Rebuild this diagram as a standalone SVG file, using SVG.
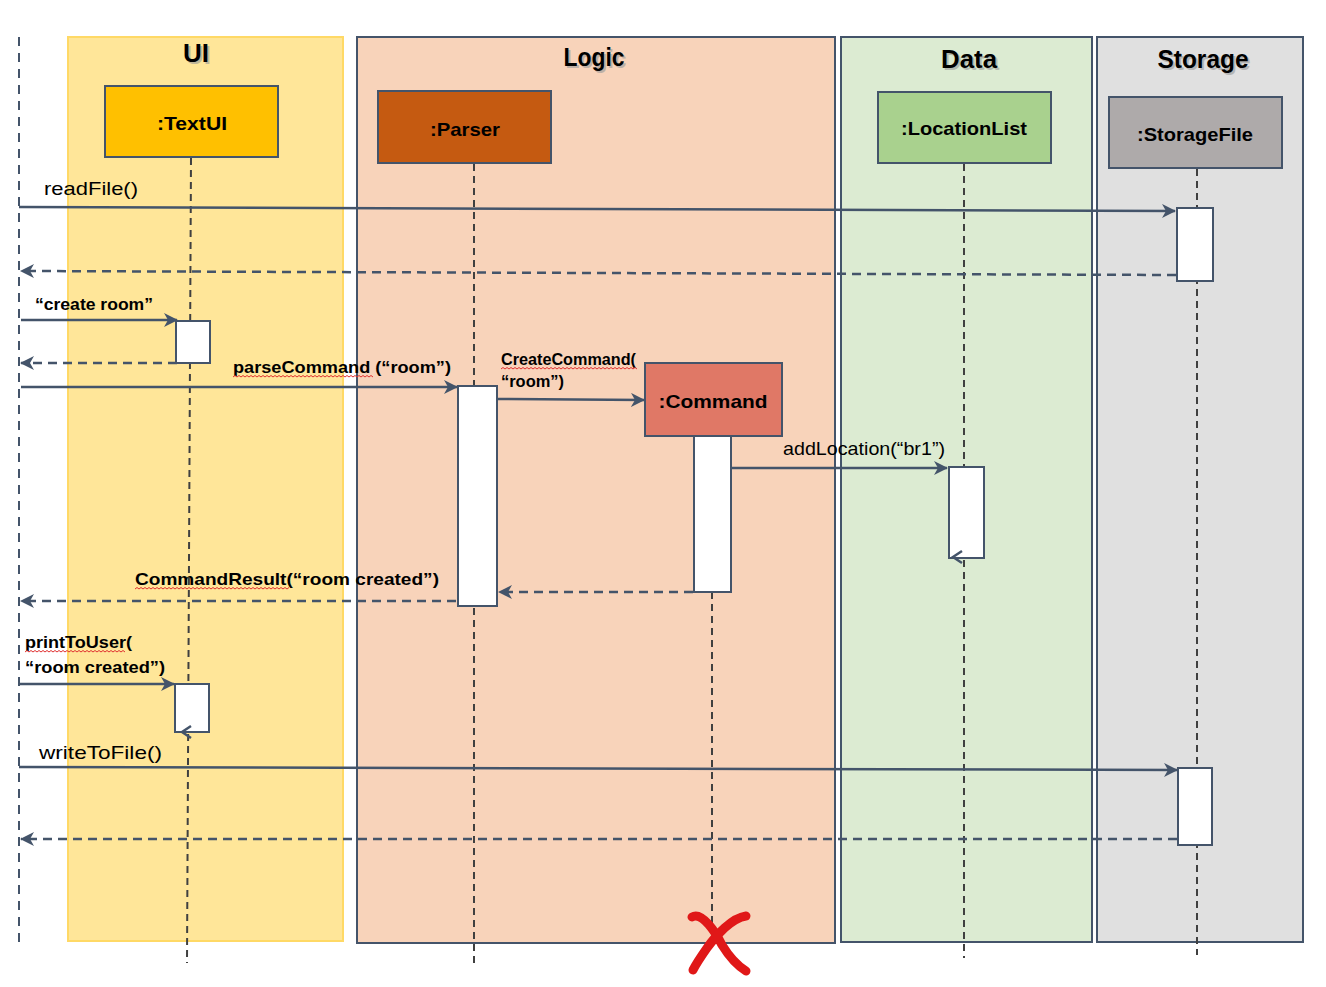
<svg xmlns="http://www.w3.org/2000/svg" width="1326" height="987" viewBox="0 0 1326 987">
<style>
  .panel{stroke:#44546A;stroke-width:2}
  .title{font-family:"Liberation Sans",Arial,sans-serif;font-weight:bold;font-size:25px;fill:#000;text-anchor:middle}
  .tshadow{font-family:"Liberation Sans",Arial,sans-serif;font-weight:bold;font-size:25px;fill:#999;opacity:0.6;text-anchor:middle}
  .obj{stroke:#44546A;stroke-width:2}
  .objtxt{font-family:"Liberation Sans",Arial,sans-serif;font-weight:bold;font-size:19px;fill:#000;text-anchor:middle}
  .life{stroke:#404040;stroke-width:2;stroke-dasharray:7,5;fill:none}
  .act{fill:#fff;stroke:#44546A;stroke-width:2}
  .msg{stroke:#44546A;stroke-width:2.5;fill:none;marker-end:url(#arr)}
  .ret{stroke:#44546A;stroke-width:2.5;fill:none;stroke-dasharray:9,6;marker-end:url(#arr)}
  .lbl{font-family:"Liberation Sans",Arial,sans-serif;font-size:19px;fill:#000}
  .blbl{font-family:"Liberation Sans",Arial,sans-serif;font-weight:bold;font-size:17px;fill:#000}
  .sq{stroke:#E03030;stroke-width:1;fill:none}
</style>
<defs>
  <marker id="arr" viewBox="0 0 14 14" refX="13" refY="7" markerWidth="14" markerHeight="14" markerUnits="userSpaceOnUse" orient="auto">
    <path d="M0,0 L14,7 L0,14 L4,7 z" fill="#44546A"/>
  </marker>
</defs>
<rect width="1326" height="987" fill="#fff"/>

<g id="panels">
  <rect x="68" y="37" width="275" height="904" fill="#FFE699" stroke="#FFD966" stroke-width="2"/>
  <rect class="panel" x="357" y="37" width="478" height="906" fill="#F8D3BA"/>
  <rect class="panel" x="841" y="37" width="251" height="905" fill="#DCEBD2"/>
  <rect class="panel" x="1097" y="37" width="206" height="905" fill="#E0E0E0"/>
  <text class="tshadow" x="198" y="64" textLength="26" lengthAdjust="spacingAndGlyphs">UI</text>
  <text class="title" x="196" y="62" textLength="26" lengthAdjust="spacingAndGlyphs">UI</text>
  <text class="tshadow" x="596" y="68" textLength="61" lengthAdjust="spacingAndGlyphs">Logic</text>
  <text class="title" x="594" y="66" textLength="61" lengthAdjust="spacingAndGlyphs">Logic</text>
  <text class="tshadow" x="971" y="70" textLength="56" lengthAdjust="spacingAndGlyphs">Data</text>
  <text class="title" x="969" y="68" textLength="56" lengthAdjust="spacingAndGlyphs">Data</text>
  <text class="tshadow" x="1205" y="70" textLength="91" lengthAdjust="spacingAndGlyphs">Storage</text>
  <text class="title" x="1203" y="68" textLength="91" lengthAdjust="spacingAndGlyphs">Storage</text>
</g>

<g id="lifelines">
  <line x1="19" y1="37" x2="19" y2="947" stroke="#44546A" stroke-width="2" stroke-dasharray="9,7"/>
  <line class="life" x1="191" y1="158" x2="187" y2="963"/>
  <line class="life" x1="474" y1="164" x2="474" y2="963"/>
  <line class="life" x1="964" y1="164" x2="964" y2="958"/>
  <line class="life" x1="1197" y1="169" x2="1197" y2="955"/>
  <line class="life" x1="712" y1="592" x2="712" y2="935"/>
</g>

<g id="TextUI">
  <rect class="obj" x="105" y="86" width="173" height="71" fill="#FFC000"/>
  <text class="objtxt" x="192" y="130" textLength="70" lengthAdjust="spacingAndGlyphs">:TextUI</text>
</g>
<g id="Parser">
  <rect class="obj" x="378" y="91" width="173" height="72" fill="#C55A11"/>
  <text class="objtxt" x="465" y="136" textLength="70" lengthAdjust="spacingAndGlyphs">:Parser</text>
</g>
<g id="LocationList">
  <rect class="obj" x="878" y="92" width="173" height="71" fill="#A9D18E"/>
  <text class="objtxt" x="964" y="135" textLength="126" lengthAdjust="spacingAndGlyphs">:LocationList</text>
</g>
<g id="StorageFile">
  <rect class="obj" x="1109" y="97" width="173" height="71" fill="#AEAAAA"/>
  <text class="objtxt" x="1195" y="141" textLength="116" lengthAdjust="spacingAndGlyphs">:StorageFile</text>
</g>
<g id="Command">
  <rect class="obj" x="645" y="363" width="137" height="73" fill="#E07866"/>
  <text class="objtxt" x="713" y="408" font-size="20" textLength="109" lengthAdjust="spacingAndGlyphs">:Command</text>
</g>

<g id="activations">
  <rect class="act" x="1177" y="208" width="36" height="73"/>
  <rect class="act" x="176" y="321" width="34" height="42"/>
  <rect class="act" x="458" y="386" width="39" height="220"/>
  <rect class="act" x="694" y="436" width="37" height="156"/>
  <rect class="act" x="949" y="467" width="35" height="91"/>
  <rect class="act" x="175" y="684" width="34" height="48"/>
  <rect class="act" x="1178" y="768" width="34" height="77"/>
</g>

<g id="connectors">
  <path class="msg" d="M19,207 L1175,211"/>
  <path class="ret" d="M1176,275 L21,271"/>
  <path class="msg" d="M21,320 L177,320"/>
  <path class="ret" d="M177,363 L21,363"/>
  <path class="msg" d="M21,387 L457,387"/>
  <path class="msg" d="M497,399 L644,400"/>
  <path class="msg" d="M731,468 L947,468"/>
  <path d="M962,551 L953,557 L962,563" stroke="#44546A" stroke-width="2.5" fill="none"/>
  <path class="ret" d="M693,592 L499,592"/>
  <path class="ret" d="M456,601 L21,601"/>
  <path class="msg" d="M19,684 L174,684"/>
  <path d="M191,726 L182,732 L191,738" stroke="#44546A" stroke-width="2.5" fill="none"/>
  <path class="msg" d="M19,767 L1177,770"/>
  <path class="ret" d="M1177,839 L21,839"/>
</g>

<g id="labels">
  <text class="lbl" x="44" y="195" textLength="94" lengthAdjust="spacingAndGlyphs">readFile()</text>
  <text class="blbl" x="35" y="310" font-size="16" textLength="118" lengthAdjust="spacingAndGlyphs">“create room”</text>
  <text class="blbl" x="233" y="373" textLength="218" lengthAdjust="spacingAndGlyphs">parseCommand (“room”)</text>
  <text class="blbl" x="501" y="365" font-size="15" textLength="135" lengthAdjust="spacingAndGlyphs">CreateCommand(</text>
  <text class="blbl" x="501" y="387" font-size="15" textLength="63" lengthAdjust="spacingAndGlyphs">“room”)</text>
  <text class="lbl" x="783" y="455" font-size="18" textLength="162" lengthAdjust="spacingAndGlyphs">addLocation(“br1”)</text>
  <text class="blbl" x="135" y="585" font-size="18" textLength="304" lengthAdjust="spacingAndGlyphs">CommandResult(“room created”)</text>
  <text class="blbl" x="25" y="648" textLength="107" lengthAdjust="spacingAndGlyphs">printToUser(</text>
  <text class="blbl" x="25" y="673" textLength="140" lengthAdjust="spacingAndGlyphs">“room created”)</text>
  <text class="lbl" x="39" y="759" font-size="20" textLength="123" lengthAdjust="spacingAndGlyphs">writeToFile()</text>
  <path class="sq" d="M233,377 l2,-1.5 l2,1.5 l2,-1.5 l2,1.5 l2,-1.5 l2,1.5 l2,-1.5 l2,1.5 l2,-1.5 l2,1.5 l2,-1.5 l2,1.5 l2,-1.5 l2,1.5 l2,-1.5 l2,1.5 l2,-1.5 l2,1.5 l2,-1.5 l2,1.5 l2,-1.5 l2,1.5 l2,-1.5 l2,1.5 l2,-1.5 l2,1.5 l2,-1.5 l2,1.5 l2,-1.5 l2,1.5 l2,-1.5 l2,1.5 l2,-1.5 l2,1.5 l2,-1.5 l2,1.5 l2,-1.5 l2,1.5 l2,-1.5 l2,1.5 l2,-1.5 l2,1.5 l2,-1.5 l2,1.5 l2,-1.5 l2,1.5 l2,-1.5 l2,1.5 l2,-1.5 l2,1.5 l2,-1.5 l2,1.5 l2,-1.5 l2,1.5 l2,-1.5 l2,1.5 l2,-1.5 l2,1.5 l2,-1.5 l2,1.5 l2,-1.5 l2,1.5 l2,-1.5 l2,1.5 l2,-1.5 l2,1.5 l2,-1.5 l2,1.5 l2,-1.5 l2,1.5"/>
  <path class="sq" d="M501,369 l2,-1.5 l2,1.5 l2,-1.5 l2,1.5 l2,-1.5 l2,1.5 l2,-1.5 l2,1.5 l2,-1.5 l2,1.5 l2,-1.5 l2,1.5 l2,-1.5 l2,1.5 l2,-1.5 l2,1.5 l2,-1.5 l2,1.5 l2,-1.5 l2,1.5 l2,-1.5 l2,1.5 l2,-1.5 l2,1.5 l2,-1.5 l2,1.5 l2,-1.5 l2,1.5 l2,-1.5 l2,1.5 l2,-1.5 l2,1.5 l2,-1.5 l2,1.5 l2,-1.5 l2,1.5 l2,-1.5 l2,1.5 l2,-1.5 l2,1.5 l2,-1.5 l2,1.5 l2,-1.5 l2,1.5 l2,-1.5 l2,1.5 l2,-1.5 l2,1.5 l2,-1.5 l2,1.5 l2,-1.5 l2,1.5 l2,-1.5 l2,1.5 l2,-1.5 l2,1.5 l2,-1.5 l2,1.5 l2,-1.5 l2,1.5 l2,-1.5 l2,1.5 l2,-1.5 l2,1.5 l2,-1.5 l2,1.5 l2,-1.5 l2,1.5"/>
  <path class="sq" d="M135,589 l2,-1.5 l2,1.5 l2,-1.5 l2,1.5 l2,-1.5 l2,1.5 l2,-1.5 l2,1.5 l2,-1.5 l2,1.5 l2,-1.5 l2,1.5 l2,-1.5 l2,1.5 l2,-1.5 l2,1.5 l2,-1.5 l2,1.5 l2,-1.5 l2,1.5 l2,-1.5 l2,1.5 l2,-1.5 l2,1.5 l2,-1.5 l2,1.5 l2,-1.5 l2,1.5 l2,-1.5 l2,1.5 l2,-1.5 l2,1.5 l2,-1.5 l2,1.5 l2,-1.5 l2,1.5 l2,-1.5 l2,1.5 l2,-1.5 l2,1.5 l2,-1.5 l2,1.5 l2,-1.5 l2,1.5 l2,-1.5 l2,1.5 l2,-1.5 l2,1.5 l2,-1.5 l2,1.5 l2,-1.5 l2,1.5 l2,-1.5 l2,1.5 l2,-1.5 l2,1.5 l2,-1.5 l2,1.5 l2,-1.5 l2,1.5 l2,-1.5 l2,1.5 l2,-1.5 l2,1.5 l2,-1.5 l2,1.5 l2,-1.5 l2,1.5 l2,-1.5 l2,1.5 l2,-1.5 l2,1.5 l2,-1.5 l2,1.5 l2,-1.5 l2,1.5 l2,-1.5"/>
  <path class="sq" d="M25,652 l2,-1.5 l2,1.5 l2,-1.5 l2,1.5 l2,-1.5 l2,1.5 l2,-1.5 l2,1.5 l2,-1.5 l2,1.5 l2,-1.5 l2,1.5 l2,-1.5 l2,1.5 l2,-1.5 l2,1.5 l2,-1.5 l2,1.5 l2,-1.5 l2,1.5 l2,-1.5 l2,1.5 l2,-1.5 l2,1.5 l2,-1.5 l2,1.5 l2,-1.5 l2,1.5 l2,-1.5 l2,1.5 l2,-1.5 l2,1.5 l2,-1.5 l2,1.5 l2,-1.5 l2,1.5 l2,-1.5 l2,1.5 l2,-1.5 l2,1.5 l2,-1.5 l2,1.5 l2,-1.5 l2,1.5 l2,-1.5 l2,1.5 l2,-1.5 l2,1.5 l2,-1.5 l2,1.5"/>
</g>

<g id="destroy">
  <path d="M692,917 C702,911 716,933 722,945 C730,958 738,966 746,971" stroke="#E01818" stroke-width="9" stroke-linecap="round" fill="none"/>
  <path d="M746,916 C732,918 716,935 707,948 C700,958 695,966 693,970" stroke="#E01818" stroke-width="9" stroke-linecap="round" fill="none"/>
</g>
</svg>
